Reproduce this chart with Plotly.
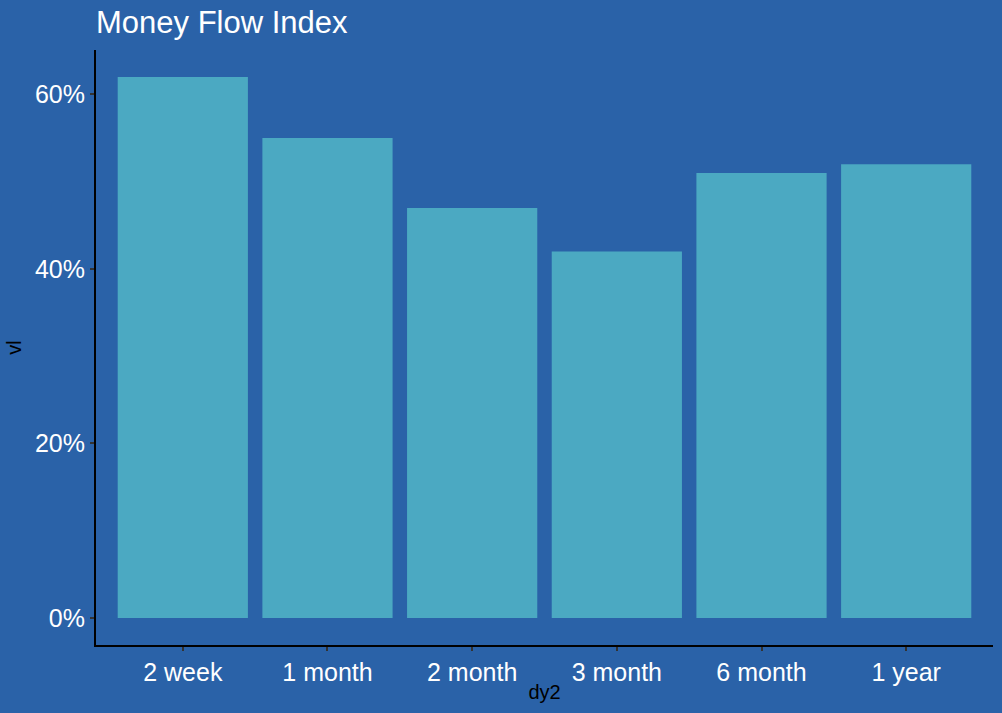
import plotly.graph_objects as go

categories = ["2 week", "1 month", "2 month", "3 month", "6 month", "1 year"]
values = [0.62, 0.55, 0.47, 0.42, 0.51, 0.52]
y_ticks = [0, 0.2, 0.4, 0.6]
y_tick_labels = ["0%", "20%", "40%", "60%"]

BG = "#2a62a8"
BAR = "#4ba9c2"
FONT = "Liberation Sans, Arial, Helvetica, sans-serif"

fig = go.Figure(go.Bar(x=categories, y=values, marker=dict(color=BAR, line=dict(width=0)), width=0.9))

fig.update_layout(
    width=1002, height=713,
    paper_bgcolor=BG, plot_bgcolor=BG,
    margin=dict(l=96, r=9, t=50, b=68),
    font=dict(family=FONT),
    showlegend=False,
    title=dict(text="Money Flow Index", x=96/1002, xanchor="left", y=1-22/713, yanchor="middle",
               font=dict(size=31, color="white", family=FONT)),
    bargap=0.1,
)
fig.update_xaxes(
    range=[-0.6, 5.6], showgrid=False, zeroline=False,
    showline=True, linecolor="black", linewidth=2,
    ticks="outside", ticklen=4, tickcolor="#333333", tickwidth=1.5,
    tickfont=dict(size=25, color="white"),
    title=dict(text="dy2", font=dict(size=20, color="black"), standoff=0),
)
fig.update_yaxes(
    range=[-0.031, 0.651], showgrid=False, zeroline=False,
    showline=True, linecolor="black", linewidth=2,
    ticks="outside", ticklen=4, tickcolor="#333333", tickwidth=1.5,
    tickvals=y_ticks, ticktext=y_tick_labels,
    tickfont=dict(size=25, color="white"),
    title=dict(text="vl", font=dict(size=20, color="black"), standoff=8),
)

fig.write_html(
    "out.html",
    config={"displayModeBar": False},
    post_script="document.body.style.margin='0';document.body.style.background='%s';" % BG,
)
